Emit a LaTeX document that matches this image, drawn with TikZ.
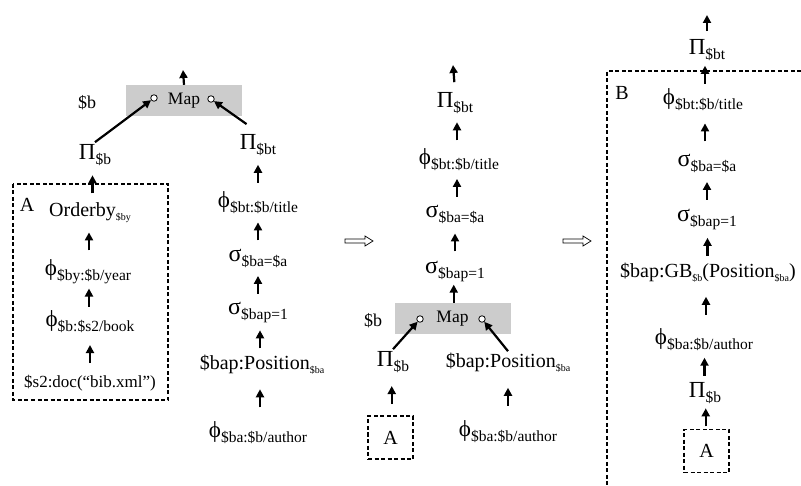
\documentclass[tikz,border=0pt]{standalone}
\usepackage{fontspec}
\setmainfont{Liberation Serif}
\usetikzlibrary{arrows.meta, positioning, calc}

\definecolor{mapgray}{HTML}{CCCCCC}

% operator symbols and subscripts
\newcommand{\Proj}{{\fontsize{23pt}{24pt}\selectfont Π}}
\newcommand{\Sel}{{\fontsize{24pt}{24pt}\selectfont σ}}
\newcommand{\Bnd}{{\fontsize{23pt}{24pt}\selectfont ϕ}}
\newcommand{\osub}[1]{\raisebox{-5pt}{\fontsize{15.5pt}{16pt}\selectfont #1}}
\newcommand{\vsub}[1]{\raisebox{-4pt}{\fontsize{10pt}{11pt}\selectfont #1}}

\begin{document}
\begin{tikzpicture}[x=1pt, y=-1pt, >={Triangle[length=8pt, width=8pt]},
  op/.style={font=\fontsize{20pt}{22pt}\selectfont, inner sep=2pt},
  upar/.style={->, line width=2.2pt},
  mapbox/.style={fill=mapgray, minimum width=116pt, minimum height=31pt, inner sep=0pt, font=\fontsize{17.5pt}{18pt}\selectfont},
  port/.style={circle, draw, fill=white, line width=0.8pt, minimum size=6.5pt, inner sep=0pt},
  dashbox/.style={draw, line width=1.4pt, dash pattern=on 4pt off 2.5pt},
  abox/.style={dashbox, minimum width=45pt, minimum height=43pt, inner sep=0pt, font=\fontsize{20pt}{22pt}\selectfont}]

\useasboundingbox (0,0) rectangle (801,486);

% ============================================================
% Left tree
% ============================================================
\node[mapbox] (map) at (184,100.5) {Map};
\node[port] (mapL) at (154,98) {};
\node[port] (mapR) at (211,99) {};
\node[op, font=\fontsize{18pt}{20pt}\selectfont] (bvar) at (87,103) {\$b};
\coordinate (ltop) at (183,70);

\node[op] (pb) at (95,155) {\Proj\osub{\$b}};

% box A
\draw[dashbox] (13,184) rectangle (168,400);
\node[op] (labA) at (27,205) {A};
\node[op] (ord) at (90,213) {Orderby\vsub{\$by}};
\node[op] (by) at (88,272) {\Bnd\osub{\$by:\$b/year}};
\node[op] (bk) at (90,322) {\Bnd\osub{\$b:\$s2/book}};
\node[op, font=\fontsize{17pt}{19pt}\selectfont] (doc) at (90,383) {\$s2:doc(“bib.xml”)};

% right branch
\node[op] (pbt) at (258,145) {\Proj\osub{\$bt}};
\node[op] (bt1) at (258,203) {\Bnd\osub{\$bt:\$b/title}};
\node[op] (sa) at (258,258) {\Sel\osub{\$ba=\$a}};
\node[op] (sp) at (258,313) {\Sel\osub{\$bap=1}};
\node[op] (pos) at (262,365) {\$bap:Position\vsub{\$ba}};
\node[op] (ba) at (258,433) {\Bnd\osub{\$ba:\$b/author}};

\draw[upar] (map.north) -- (ltop);
\draw[upar] (pb.north) -- (mapL);
\draw[upar, shorten <=14pt] (pbt.north) -- (mapR);

% ============================================================
% Middle tree
% ============================================================
\coordinate (mtop) at (453,65);
\node[op] (mpbt) at (455,103) {\Proj\osub{\$bt}};
\node[op] (mbt) at (459,160) {\Bnd\osub{\$bt:\$b/title}};
\node[op] (msa) at (455,214) {\Sel\osub{\$ba=\$a}};
\node[op] (msp) at (455,272) {\Sel\osub{\$bap=1}};
\node[mapbox] (mmap) at (452.5,318.5) {Map};
\node[port] (mmapL) at (420,319) {};
\node[port] (mmapR) at (482,319) {};
\node[op, font=\fontsize{18pt}{20pt}\selectfont] (mbvar) at (373,321) {\$b};
\node[op] (mpb) at (393,362) {\Proj\osub{\$b}};
\node[op] (mpos) at (508,363) {\$bap:Position\vsub{\$ba}};
\node[op] (mba) at (508,432) {\Bnd\osub{\$ba:\$b/author}};
\node[abox] (mA) at (390.5,437.5) {A};

\draw[upar, shorten <=8pt] (mpbt.north) -- (mtop);
\draw[upar] (mpb.north) -- (mmapL);
\draw[upar] (mpos.north) -- (mmapR);

% ============================================================
% Right tree
% ============================================================
\coordinate (rtop) at (707,15);
\node[op] (rpbt) at (707,50) {\Proj\osub{\$bt}};
\draw[dashbox] (801,71) -- (607,71) -- (607,486);
\node[op] (labB) at (622,93) {B};
\node[op] (rbt) at (703,100) {\Bnd\osub{\$bt:\$b/title}};
\node[op] (rsa) at (707,163) {\Sel\osub{\$ba=\$a}};
\node[op] (rsp) at (707,220) {\Sel\osub{\$bap=1}};
\node[op] (rgb) at (708,273) {\$bap:GB\vsub{\$b}(Position\vsub{\$ba})};
\node[op] (rba) at (704,340) {\Bnd\osub{\$ba:\$b/author}};
\node[op] (rpb) at (705,393) {\Proj\osub{\$b}};
\node[abox] (rA) at (706.5,451) {A};

\draw[upar, shorten <=6pt] (rpbt.north) -- (rtop);

% vertical arrows between stacked operators
\foreach \lo/\up in {ord/pb, by/ord, bk/by, doc/bk,
                     bt1/pbt, sa/bt1, sp/sa, pos/sp, ba/pos,
                     mbt/mpbt, msa/mbt, msp/msa, mmap/msp, mA/mpb, mba/mpos,
                     rbt/rpbt, rsa/rbt, rsp/rsa, rgb/rsp, rba/rgb, rpb/rba, rA/rpb}
  \draw[upar] ($(\lo.north)!0.5!(\up.south)+(0,9)$) -- ($(\lo.north)!0.5!(\up.south)+(0,-9)$);

% rewrite arrows
\foreach \ax in {345,563}
  \draw[line width=0.7pt, fill=white] (\ax,239) -- (\ax+20,239) -- (\ax+20,236) -- (\ax+28,241)
    -- (\ax+20,246) -- (\ax+20,243) -- (\ax,243) -- cycle;

\end{tikzpicture}
\end{document}
